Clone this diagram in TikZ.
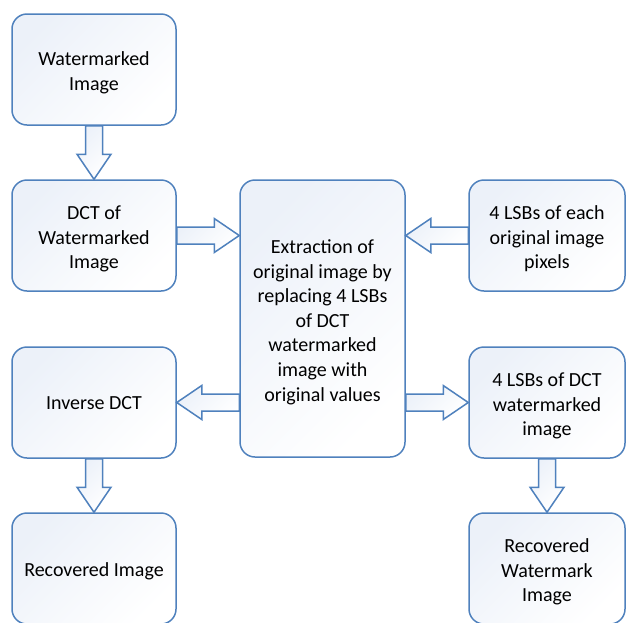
\documentclass[tikz,border=0pt]{standalone}
\usepackage{fontspec}
\setmainfont{Carlito}
\usetikzlibrary{calc}
\definecolor{bord}{RGB}{79,129,189}
\definecolor{lite}{RGB}{236,241,249}
\newcommand\lft[1]{\rule{0pt}{#1}}
\tikzset{
  box/.style={draw=bord, line width=1.5pt, rounded corners=15pt, top color=lite, bottom color=white, shading angle=45,
    minimum width=164pt, minimum height=111pt, inner sep=0pt, align=center,
    font=\fontsize{20}{24.6}\selectfont, text=black},
  rbox/.style={box, minimum width=156pt},
  barrowst/.style={draw=bord, line width=1.5pt, top color=lite, bottom color=white, shading angle=45, line join=miter}
}
\newcommand\blockarrow[2]{%
  \coordinate (ba-h) at ($(#2)!25pt!(#1)$);
  \path[barrowst] ($(#1)!8.5pt!90:(#2)$) -- ($(ba-h)!8.5pt!90:(#2)$) -- ($(ba-h)!17pt!90:(#2)$) -- (#2)
    -- ($(ba-h)!17pt!-90:(#2)$) -- ($(ba-h)!8.5pt!-90:(#2)$) -- ($(#1)!8.5pt!-90:(#2)$) -- cycle;}
\begin{document}
\begin{tikzpicture}[x=1pt,y=-1pt]
\path[use as bounding box] (0,0) rectangle (626,622);
\clip (0,0) rectangle (626,622);
\node[box] (w) at (94,69.5) {\lft{21pt}Watermarked\\Image};
\node[box] (d) at (94,235.5) {\lft{21pt}DCT of\\Watermarked\\Image};
\node[box] (inv) at (94,402.5) {\lft{15pt}Inverse DCT};
\node[box] (rec) at (94,568.5) {\lft{19.5pt}Recovered Image};
\node[box, minimum width=165pt, minimum height=277pt] (c) at (322.5,318.5)
  {\lft{21pt}Extraction of\\original image by\\replacing 4 LSBs\\of DCT\\watermarked\\image with\\original values};
\node[rbox] (r1) at (547,235.5) {\lft{21pt}4 LSBs of each\\original image\\pixels};
\node[rbox] (r2) at (547,402.5) {\lft{21pt}4 LSBs of DCT\\watermarked\\image};
\node[rbox] (r3) at (547,568.5) {\lft{21pt}Recovered\\Watermark\\Image};
\coordinate (a1) at (d.east -| c.west);
\coordinate (a2) at (r1.west -| c.east);
\coordinate (a3) at (inv.east -| c.west);
\coordinate (a4) at (r2.west -| c.east);
\blockarrow{w.south}{d.north}
\blockarrow{d.east}{a1}
\blockarrow{r1.west}{a2}
\blockarrow{a3}{inv.east}
\blockarrow{a4}{r2.west}
\blockarrow{inv.south}{rec.north}
\blockarrow{r2.south}{r3.north}
\end{tikzpicture}
\end{document}
